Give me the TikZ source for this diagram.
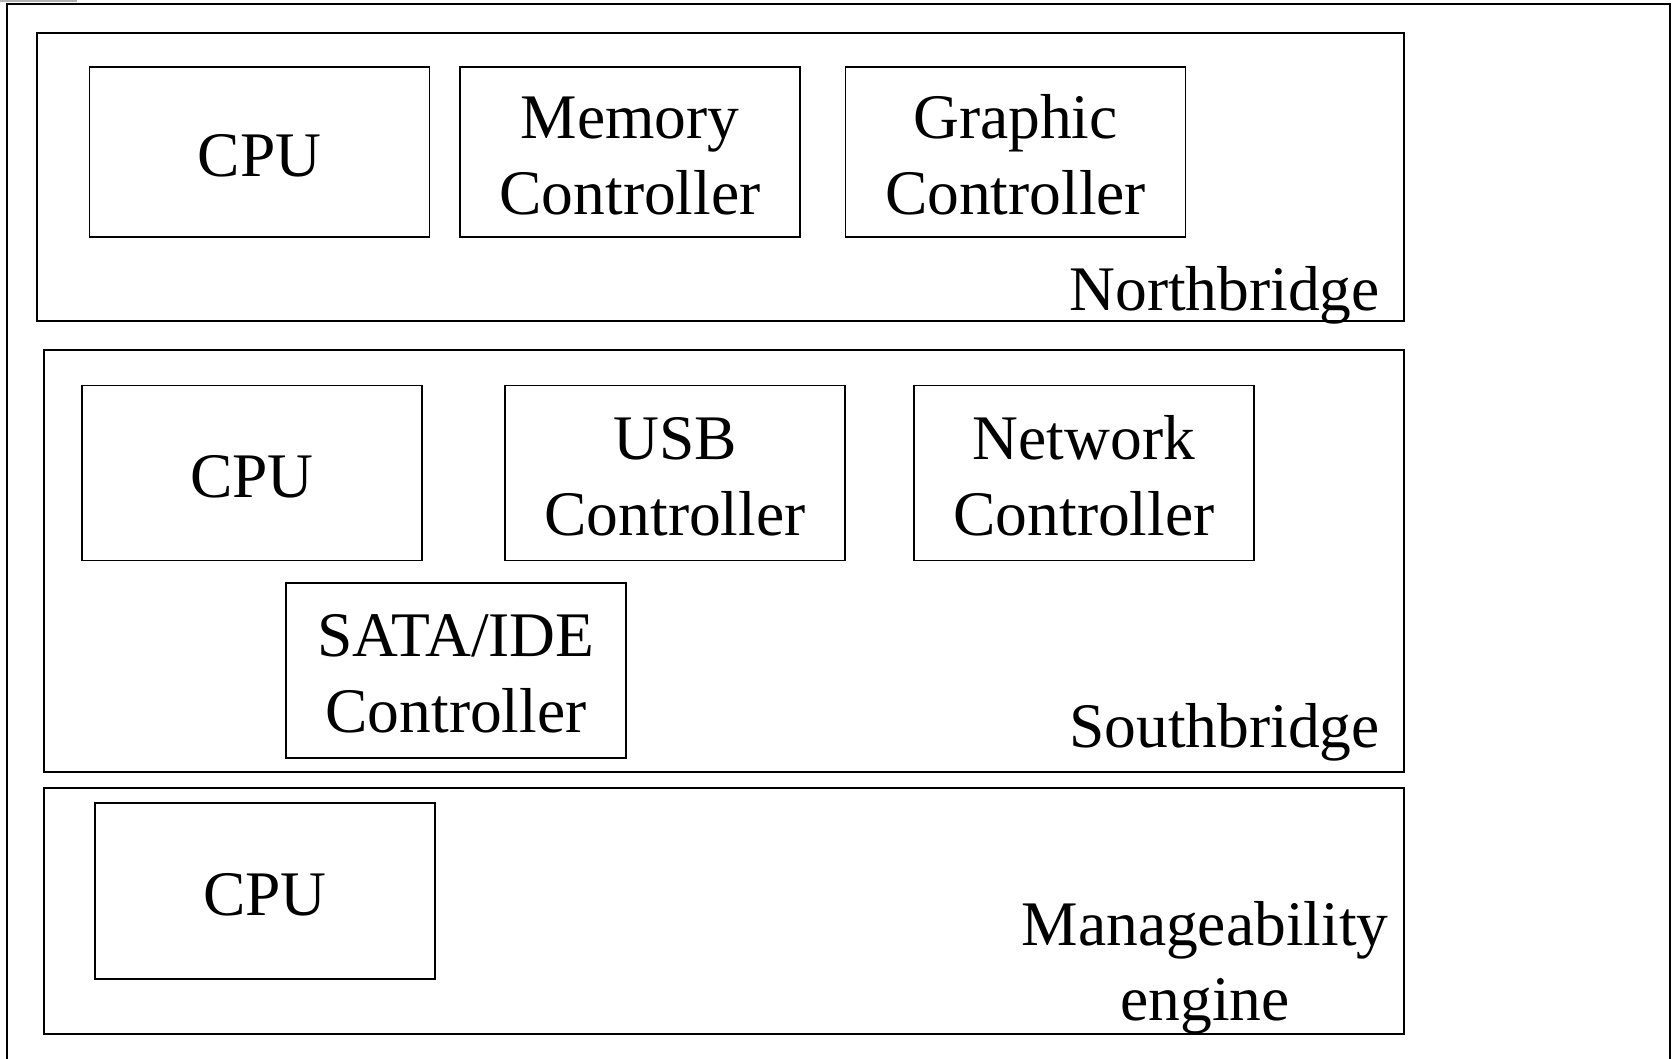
\documentclass[tikz,border=0pt]{standalone}
\usepackage{fontspec}
\setmainfont{Liberation Serif}
\newcommand\topstrut{\rule{0pt}{49pt}}
\begin{document}
\begin{tikzpicture}[x=1pt,y=-1pt,
  frame/.style={draw=black,line width=2pt},
  unit/.style={draw=black,line width=1.8pt},
  lbl/.style={font=\fontsize{63.5}{76}\selectfont,align=center,inner sep=0pt}]
\useasboundingbox (0,0) rectangle (1675,1059);
% top-left artifact line
\draw[gray!60,line width=2pt] (0,1) -- (77,1);
% outer frame (bottom cut off)
\draw[frame] (6.5,1059) -- (6.5,4.5) -- (1670,4.5) -- (1670,1059);
% groups
\draw[unit] (37,33) rectangle (1404,321);
\draw[unit] (44,350) rectangle (1404,772);
\draw[unit] (44,788) rectangle (1404,1034);
% Northbridge units
\node[unit,lbl,minimum width=340pt,minimum height=170pt] (cpu1) at (259.5,152) {\topstrut CPU};
\node[unit,lbl,minimum width=340pt,minimum height=170pt] (mem) at (630,152) {\topstrut Memory\\Controller};
\node[unit,lbl,minimum width=340pt,minimum height=170pt] (gfx) at (1015.5,152) {\topstrut Graphic\\Controller};
\node[lbl,anchor=base east] (nb) at (1380,310) {Northbridge};
% Southbridge units
\node[unit,lbl,minimum width=340pt,minimum height=175pt] (cpu2) at (252,473) {\topstrut CPU};
\node[unit,lbl,minimum width=340pt,minimum height=175pt] (usb) at (675,473) {\topstrut USB\\Controller};
\node[unit,lbl,minimum width=340pt,minimum height=175pt] (net) at (1084,473) {\topstrut Network\\Controller};
\node[unit,lbl,minimum width=340pt,minimum height=175pt] (sata) at (456,670.5) {\topstrut SATA/IDE\\Controller};
\node[lbl,anchor=base east] (sb) at (1380,747.5) {Southbridge};
% Manageability engine
\node[unit,lbl,minimum width=340pt,minimum height=176pt] (cpu3) at (265,891) {\topstrut CPU};
\node[lbl,anchor=base] (me1) at (1205,945) {Manageability};
\node[lbl,anchor=base] (me2) at (1205,1020) {engine};
\end{tikzpicture}
\end{document}
